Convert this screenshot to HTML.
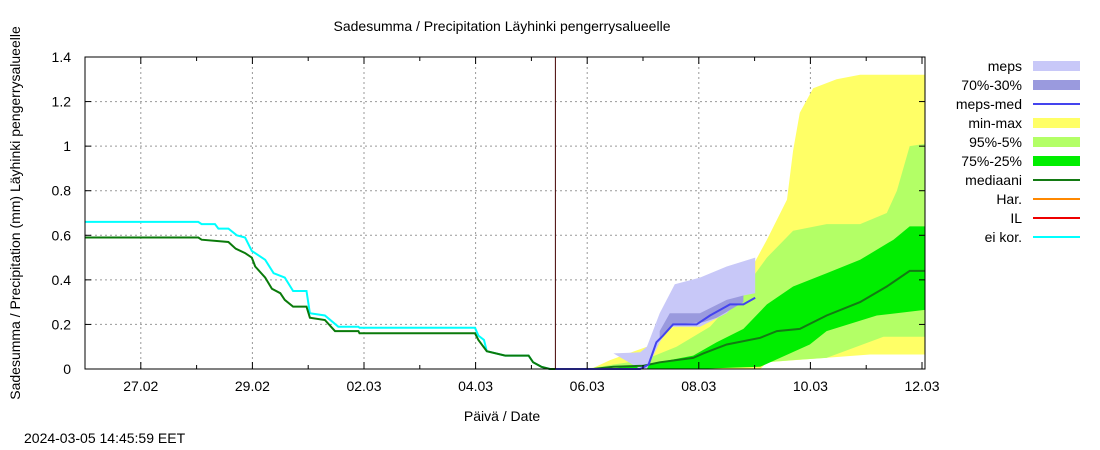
<!DOCTYPE html>
<html><head><meta charset="utf-8"><style>
body{margin:0;background:#fff;}
svg{display:block;font-family:"Liberation Sans",sans-serif;}
</style></head><body>
<svg id="c" width="1100" height="450">
<text x="502" y="31" font-size="14" text-anchor="middle">Sadesumma / Precipitation  Läyhinki pengerrysalueelle</text>
<text transform="translate(20,213) rotate(-90)" font-size="14" text-anchor="middle">Sadesumma / Precipitation (mm)  Läyhinki pengerrysalueelle</text>
<text x="502" y="421" font-size="14" text-anchor="middle">Päivä / Date</text>
<text x="24" y="443" font-size="14">2024-03-05 14:45:59 EET</text>
<g id="grid"></g>
<g id="bands"></g>
<g id="lines"></g>
<g id="axes"></g>
<g id="legend"></g>
</svg>
<script>
const yTicks=[0,0.2,0.4,0.6,0.8,1,1.2,1.4];
const yTickLabels=["0","0.2","0.4","0.6","0.8","1","1.2","1.4"];
const xTickDays=[1,3,5,7,9,11,13,15];
const xTickLabels=["27.02","29.02","02.03","04.03","06.03","08.03","10.03","12.03"];
const nowDay=8.43;
const obsGreenDays=[0,2.03,2.09,2.57,2.7,2.87,2.99,3.05,3.23,3.35,3.5,3.58,3.73,3.97,4.03,4.30,4.48,4.90,4.92,6.99,7.05,7.2,7.53,7.95,8.03,8.18,8.33,8.43];
const obsGreenVals=[0.59,0.59,0.58,0.57,0.54,0.52,0.50,0.46,0.41,0.36,0.34,0.31,0.28,0.28,0.23,0.22,0.17,0.17,0.16,0.16,0.13,0.08,0.06,0.06,0.03,0.01,0,0];
const obsCyanDays=[0,2.03,2.09,2.33,2.39,2.57,2.72,2.87,2.99,3.23,3.38,3.58,3.73,3.97,4.03,4.30,4.54,4.90,4.92,6.99,7.05,7.15,7.2,7.53,7.95,8.03,8.18,8.33,8.43];
const obsCyanVals=[0.66,0.66,0.65,0.65,0.63,0.63,0.60,0.59,0.53,0.49,0.43,0.41,0.35,0.35,0.25,0.24,0.19,0.19,0.185,0.185,0.15,0.13,0.08,0.06,0.06,0.03,0.01,0,0];
const maxDays=[8.43,9.11,9.41,10.07,10.54,11.08,11.80,12.22,12.58,12.69,12.81,13.05,13.47,13.89,15.05];
const maxVals=[0,0.005,0.04,0.10,0.19,0.25,0.385,0.58,0.76,0.98,1.15,1.26,1.30,1.32,1.32];
const minDays=[8.43,12.10,12.22,14.07,15.05];
const minVals=[0,0,0.03,0.065,0.065];
const p95Days=[8.43,9.11,9.47,10.01,10.60,11.20,11.80,12.22,12.69,13.29,13.89,14.37,14.55,14.78,15.05];
const p95Vals=[0,0.005,0.02,0.04,0.10,0.19,0.355,0.50,0.62,0.65,0.65,0.70,0.80,1.0,1.01];
const p5Days=[8.43,11.20,11.50,12.22,12.69,13.29,14.31,15.05];
const p5Vals=[0,0,0.015,0.03,0.04,0.05,0.145,0.145];
const p75Days=[8.43,9.47,10.07,10.90,11.32,11.80,12.22,12.69,13.29,13.89,14.49,14.78,15.05];
const p75Vals=[0,0.003,0.02,0.06,0.12,0.18,0.29,0.37,0.43,0.49,0.58,0.64,0.64];
const p25Days=[8.43,10.90,12.10,12.99,13.29,14.19,15.05];
const p25Vals=[0,0,0.01,0.11,0.17,0.24,0.265];
const medDays=[8.43,9.11,9.47,10.01,10.30,10.90,11.08,11.50,12.10,12.40,12.81,13.29,13.89,14.37,14.78,15.05];
const medVals=[0,0,0.01,0.015,0.03,0.05,0.07,0.11,0.14,0.17,0.18,0.24,0.30,0.37,0.44,0.44];
const mepsHiDays=[9.47,9.95,10.07,10.30,10.57,11.02,11.50,12.01];
const mepsHiVals=[0.07,0.075,0.10,0.25,0.38,0.41,0.46,0.50];
const mepsLoDays=[9.47,9.95,10.07,10.30,10.48,11.02,11.50,11.80,12.01];
const mepsLoVals=[0.07,0.0,0.0,0.12,0.19,0.19,0.25,0.33,0.34];
const m70Days=[10.30,10.48,11.02,11.50,11.80];
const m70Vals=[0.17,0.25,0.25,0.31,0.33];
const m30Days=[10.30,10.54,11.08,11.32,11.80];
const m30Vals=[0.14,0.20,0.21,0.23,0.30];
const mepsMedDays=[8.43,9.95,10.10,10.24,10.36,10.54,10.96,11.20,11.56,11.80,12.01];
const mepsMedVals=[0,0,0.02,0.12,0.15,0.20,0.20,0.24,0.29,0.29,0.32];

const X0=85,X1=925,Y0=369,Y1=57,DAYPX=55.8;
const sx=d=>X0+d*DAYPX;
const sy=v=>Y0-v*(Y0-Y1)/1.4;
const NS="http://www.w3.org/2000/svg";
function mk(parent,tag,attrs){const e=document.createElementNS(NS,tag);for(const k in attrs)e.setAttribute(k,attrs[k]);document.getElementById(parent).appendChild(e);return e;}
function pts(ds,vs){return ds.map((d,i)=>sx(d).toFixed(1)+","+sy(vs[i]).toFixed(1));}
function band(hd,hv,ld,lv){return pts(hd,hv).concat(pts(ld,lv).reverse()).join(" ");}

// grid
yTicks.forEach((v,i)=>{
 if(v>0&&v<1.4){const g=mk("grid","line",{x1:X0,x2:X1,y1:sy(v),y2:sy(v),stroke:"#999","stroke-dasharray":"2,3"});
 
 }
 const t=mk("axes","text",{x:X0-14,y:sy(v)+5,"font-size":14,"text-anchor":"end"});
 t.textContent=yTickLabels[i];
 
 
 mk("axes","line",{x1:X0,x2:X0+6,y1:sy(v),y2:sy(v),stroke:"#000"});
 mk("axes","line",{x1:X1,x2:X1-6,y1:sy(v),y2:sy(v),stroke:"#000"});
});
xTickDays.forEach((d,i)=>{
 if(d<15){const g=mk("grid","line",{x1:sx(d),x2:sx(d),y1:Y1,y2:Y0,stroke:"#999","stroke-dasharray":"2,3"});
 
 }
 const t=mk("axes","text",{x:sx(d),y:Y0+22,"font-size":14,"text-anchor":"middle"});
 t.textContent=xTickLabels[i];
 
 
});
for(let d=1;d<15.1;d++){const L=(d%2===1)?7:4;mk("axes","line",{x1:sx(d),x2:sx(d),y1:Y0,y2:Y0-L,stroke:"#000"});mk("axes","line",{x1:sx(d),x2:sx(d),y1:Y1,y2:Y1+L,stroke:"#000"});}

// bands
let b;
b=mk("bands","polygon",{points:band(maxDays,maxVals,minDays,minVals),fill:"#ffff66"});

b=mk("bands","polygon",{points:band(p95Days,p95Vals,p5Days,p5Vals),fill:"#b3ff66"});

b=mk("bands","polygon",{points:band(p75Days,p75Vals,p25Days,p25Vals),fill:"#00ee00"});

b=mk("bands","polygon",{points:band(mepsHiDays,mepsHiVals,mepsLoDays,mepsLoVals),fill:"#c8c8f8"});

b=mk("bands","polygon",{points:band(m70Days,m70Vals,m30Days,m30Vals),fill:"#9a9ade"});


// lines
let l;
l=mk("lines","polyline",{points:pts(medDays,medVals).join(" "),fill:"none",stroke:"#137a13","stroke-width":2});


l=mk("lines","polyline",{points:pts(mepsMedDays,mepsMedVals).join(" "),fill:"none",stroke:"#4444ee","stroke-width":2});


l=mk("lines","polyline",{points:pts(obsCyanDays,obsCyanVals).join(" "),fill:"none",stroke:"#00ffff","stroke-width":2});


l=mk("lines","polyline",{points:pts(obsGreenDays,obsGreenVals).join(" "),fill:"none",stroke:"#0a7a0a","stroke-width":2});


l=mk("lines","line",{x1:sx(nowDay),x2:sx(nowDay),y1:Y1,y2:Y0,stroke:"#400","stroke-width":1});


const fr=mk("axes","rect",{x:X0,y:Y1,width:X1-X0,height:Y0-Y1,fill:"none",stroke:"#000"});


// legend
const legLabels=["meps","70%-30%","meps-med","min-max","95%-5%","75%-25%","mediaani","Har.","IL","ei kor."];
const legColors=["#c8c8f8","#9a9ade","#4444ee","#ffff66","#b3ff66","#00ee00","#137a13","#ff8800","#ee0000","#00ffff"];
const legType=["box","box","line","box","box","box","line","line","line","line"];
legLabels.forEach((s,i)=>{
 const y=66+i*19;
 const t=mk("legend","text",{x:1022,y:y+5,"font-size":14,"text-anchor":"end"});
 t.textContent=s;
 
 
 let m;
 if(legType[i]==="box")m=mk("legend","rect",{x:1033,y:y-5,width:47,height:10,fill:legColors[i]});
 else m=mk("legend","line",{x1:1033,x2:1080,y1:y,y2:y,stroke:legColors[i],"stroke-width":2});
 
 
});
</script>
</body></html>
